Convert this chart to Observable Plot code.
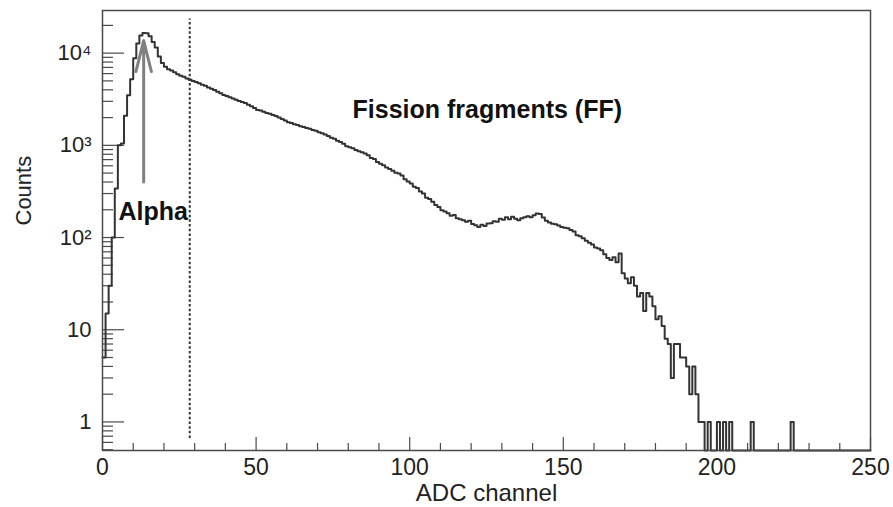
<!DOCTYPE html>
<html><head><meta charset="utf-8">
<script src="https://cdn.jsdelivr.net/npm/d3@7"></script>
<script src="https://cdn.jsdelivr.net/npm/@observablehq/plot@0.6"></script>
<style>body{margin:0;background:#fff}</style>
</head><body><div id="chart"></div>
<script>
// Histogram counts per ADC channel bin (bin width 1, bins 0..249)
const counts = [
  5, 15, 30, 100, 340, 1000, 1050, 2100, 3500, 5200,
  8800, 12700, 15500, 16500, 16400, 15200, 13200, 11500, 9200, 7800,
  7100, 6700, 6500, 6200, 5900, 5700, 5550, 5300, 5150, 5000,
  4850, 4700, 4550, 4420, 4250, 4120, 3980, 3820, 3680, 3520,
  3420, 3330, 3220, 3130, 3020, 2950, 2870, 2760, 2660, 2540,
  2420, 2380, 2310, 2240, 2200, 2130, 2080, 2010, 1930, 1860,
  1780, 1750, 1690, 1660, 1610, 1580, 1540, 1510, 1470, 1440,
  1390, 1350, 1310, 1260, 1210, 1180, 1120, 1090, 1040, 980,
  955, 930, 890, 860, 840, 815, 780, 730, 710, 660,
  630, 610, 575, 555, 530, 505, 495, 470, 430, 405,
  385, 355, 345, 315, 300, 270, 262, 245, 225, 215,
  198, 192, 183, 172, 176, 162, 158, 154, 148, 152,
  140, 136, 130, 138, 133, 142, 143, 150, 148, 160,
  156, 166, 158, 168, 160, 154, 162, 166, 170, 166,
  175, 182, 180, 165, 152, 146, 141, 139, 135, 130,
  128, 126, 121, 116, 106, 103, 98, 92, 88, 84,
  78, 76, 73, 66, 60, 57, 61, 54, 67, 41,
  36, 32, 37, 30, 23, 25, 16, 25, 23, 18,
  13, 14, 11, 8, 7, 3, 7, 7, 5, 5,
  4, 2, 4, 2, 1, 1, 0, 1, 0, 0,
  1, 0, 1, 0, 1, 0, 0, 0, 0, 0,
  0, 1, 0, 0, 0, 0, 0, 0, 0, 0,
  0, 0, 0, 0, 1, 0, 0, 0, 0, 0,
  0, 0, 0, 0, 0, 0, 0, 0, 0, 0,
  0, 0, 0, 0, 0, 0, 0, 0, 0, 0
];
const binWidth = 1;
const xMajorTicks = [0, 50, 100, 150, 200, 250];
const yMajorTicks = [1, 10, 100, 1000, 10000];
const yTickLabels = ["1", "10", "10²", "10³", "10⁴"];
const cutChannel = [28.4];
const cutRange = [0.66, 23500];
const alphaArrow = [{x: 13.4, from: 400, to: 13700}];
const annotations = [
  {x: 5.2, y: 188, text: "Alpha"},
  {x: 81.4, y: 2430, text: "Fission fragments (FF)"}
];
const xLabel = "ADC channel";
const yLabel = "Counts";
const xDomain = [0, 250];
const yDomain = [0.49, 29000];

// layout
const W = 893, H = 507, mL = 102, mR = 23, mT = 10, mB = 57;
const frameW = W - mL - mR, frameH = H - mT - mB;
const axisColor = "#4a4a4a";
const font = "'Liberation Sans', Arial, Helvetica, sans-serif";

const xMinorTicks = d3.range(xDomain[0], xDomain[1] + 1, 10).filter(v => v % 50 !== 0);
const yMinorTicks = [];
for (let e = -1; e <= 4; e++) for (let m = 2; m <= 9; m++) {
  const v = m * Math.pow(10, e);
  if (v >= yDomain[0] && v <= yDomain[1]) yMinorTicks.push(+v.toPrecision(3));
}

const hist = counts.map((c, i) => ({x: i * binWidth, y: Math.max(c, yDomain[0])}));
hist.push({x: counts.length * binWidth, y: hist[hist.length - 1].y});

const chart = Plot.plot({
  width: W, height: H,
  marginLeft: mL, marginRight: mR, marginTop: mT, marginBottom: mB,
  style: {fontFamily: font, background: "#fff", color: "#222"},
  x: {domain: xDomain},
  y: {type: "log", domain: yDomain},
  marks: [
    Plot.tickX(xMinorTicks, {x: d => d, insetTop: frameH - 7, stroke: axisColor, strokeWidth: 1.2}),
    Plot.tickX(xMajorTicks, {x: d => d, insetTop: frameH - 13, stroke: axisColor, strokeWidth: 1.2}),
    Plot.tickY(yMinorTicks, {y: d => d, insetRight: frameW - 11, stroke: axisColor, strokeWidth: 1.2}),
    Plot.tickY(yMajorTicks, {y: d => d, insetRight: frameW - 22, stroke: axisColor, strokeWidth: 1.2}),
    Plot.axisX({ticks: xMajorTicks, tickSize: 0, tickPadding: 8, fontSize: 23, label: null, tickFormat: d => String(d)}),
    Plot.axisY({ticks: yMajorTicks, tickSize: 0, tickPadding: 11, fontSize: 22, label: null,
      tickFormat: d => yTickLabels[yMajorTicks.indexOf(d)]}),
    Plot.ruleX(cutChannel, {x: d => d, y1: cutRange[0], y2: cutRange[1], stroke: "#333", strokeWidth: 2, strokeDasharray: "2.5,2.2"}),
    Plot.line(hist, {x: "x", y: "y", curve: "step-after", stroke: "#333", strokeWidth: 2}),
    Plot.arrow(alphaArrow, {x: "x", y1: "from", y2: "to", stroke: "#808080", strokeWidth: 3, headLength: 16, headAngle: 28}),
    Plot.text(annotations, {x: "x", y: "y", text: "text", textAnchor: "start", fontWeight: "bold", fontSize: 25, fill: "#111"}),
    Plot.text([xLabel], {frameAnchor: "bottom", dy: 33, lineAnchor: "top", fontSize: 24, fill: "#222"}),
    Plot.text([yLabel], {frameAnchor: "left", dx: -79, dy: -5, rotate: -90, fontSize: 22, fill: "#222"}),
    Plot.frame({stroke: axisColor, strokeWidth: 1.5})
  ]
});
document.getElementById("chart").appendChild(chart);
</script>
</body></html>
